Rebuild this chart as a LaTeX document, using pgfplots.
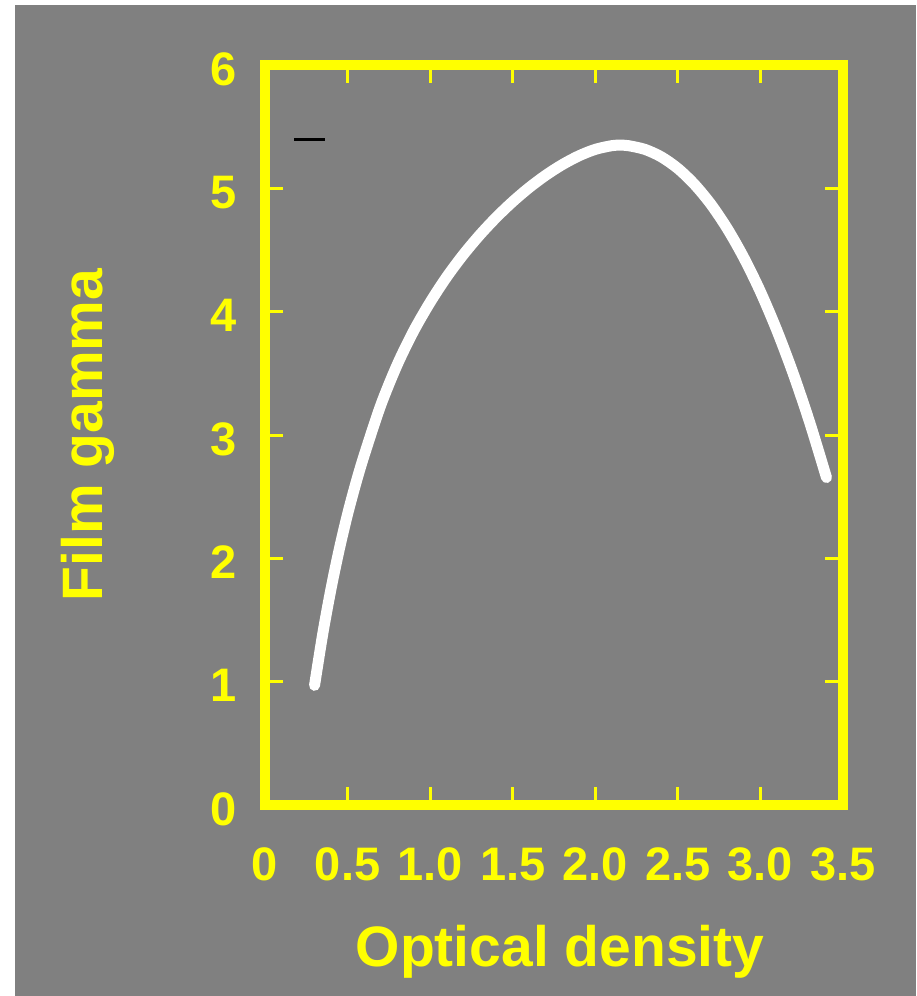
\documentclass[border=0pt]{standalone}
\usepackage{fontspec}
\setmainfont{Liberation Sans}
\usepackage{pgfplots}
\pgfplotsset{compat=1.18}
\definecolor{bggray}{RGB}{128,128,128}
\definecolor{ylw}{RGB}{255,255,0}
\begin{document}
\begin{tikzpicture}
\fill[white] (0,0) rectangle (458pt,498pt);
\fill[bggray] (7.5pt,0) rectangle (458pt,495.5pt);
\useasboundingbox (0,0) rectangle (458pt,498pt);
\begin{axis}[
  at={(132.5pt,95.5pt)}, anchor=south west,
  scale only axis, width=289pt, height=370pt,
  xmin=0, xmax=3.5, ymin=0, ymax=6,
  xtick={0,0.5,1,1.5,2,2.5,3,3.5},
  xticklabels={0,0.5,1.0,1.5,2.0,2.5,3.0,3.5},
  ytick={0,1,2,3,4,5,6},
  yticklabels={0,1,2,3,4,5,6},
  tick pos=both, tick align=inside,
  major tick length=9pt,
  major tick style={ylw, line width=1.5pt},
  axis line style={ylw, line width=5pt, line join=miter},
  tick label style={font=\fontsize{23.5}{24}\selectfont\bfseries, text=ylw},
  xticklabel style={anchor=base, inner sep=0pt, yshift=-37.5pt},
  yticklabel style={anchor=east, inner sep=0pt, xshift=-14pt, yshift=-2pt},
  xlabel={Optical density},
  ylabel={Film gamma},
  label style={font=\fontsize{28.5}{30}\selectfont\bfseries, text=ylw},
  xlabel style={at={(axis description cs:0.5,0)}, anchor=base, yshift=-80.5pt, xshift=3pt},
  ylabel style={at={(axis description cs:-0.282,0.5)}, anchor=base},
  legend style={draw=none, fill=none, inner sep=0pt, outer sep=0pt,
    nodes={inner sep=0pt}, anchor=west, at={(axis description cs:0.0484,0.899)}},
  legend image code/.code={\draw[black, line width=1.5pt] (0pt,0pt) -- (15.5pt,0pt);},
]
\addplot[white, line width=5.5pt, line cap=round, smooth, forget plot] coordinates {
(0.30,0.970) (0.35,1.390) (0.40,1.755) (0.45,2.075) (0.50,2.358) (0.55,2.608)
(0.60,2.833) (0.70,3.238) (0.80,3.568) (0.90,3.843) (1.00,4.076) (1.10,4.281)
(1.20,4.461) (1.30,4.621) (1.40,4.764) (1.50,4.892) (1.60,5.006) (1.70,5.106)
(1.80,5.192) (1.90,5.263) (2.00,5.316) (2.10,5.346) (2.15,5.350) (2.20,5.346)
(2.30,5.316) (2.40,5.255) (2.50,5.161) (2.60,5.033) (2.70,4.871) (2.80,4.672)
(2.90,4.436) (3.00,4.162) (3.10,3.847) (3.20,3.492) (3.30,3.095) (3.40,2.655)
};
\addlegendimage{black, line width=1.5pt}
\addlegendentry{}
\end{axis}
\end{tikzpicture}
\end{document}
